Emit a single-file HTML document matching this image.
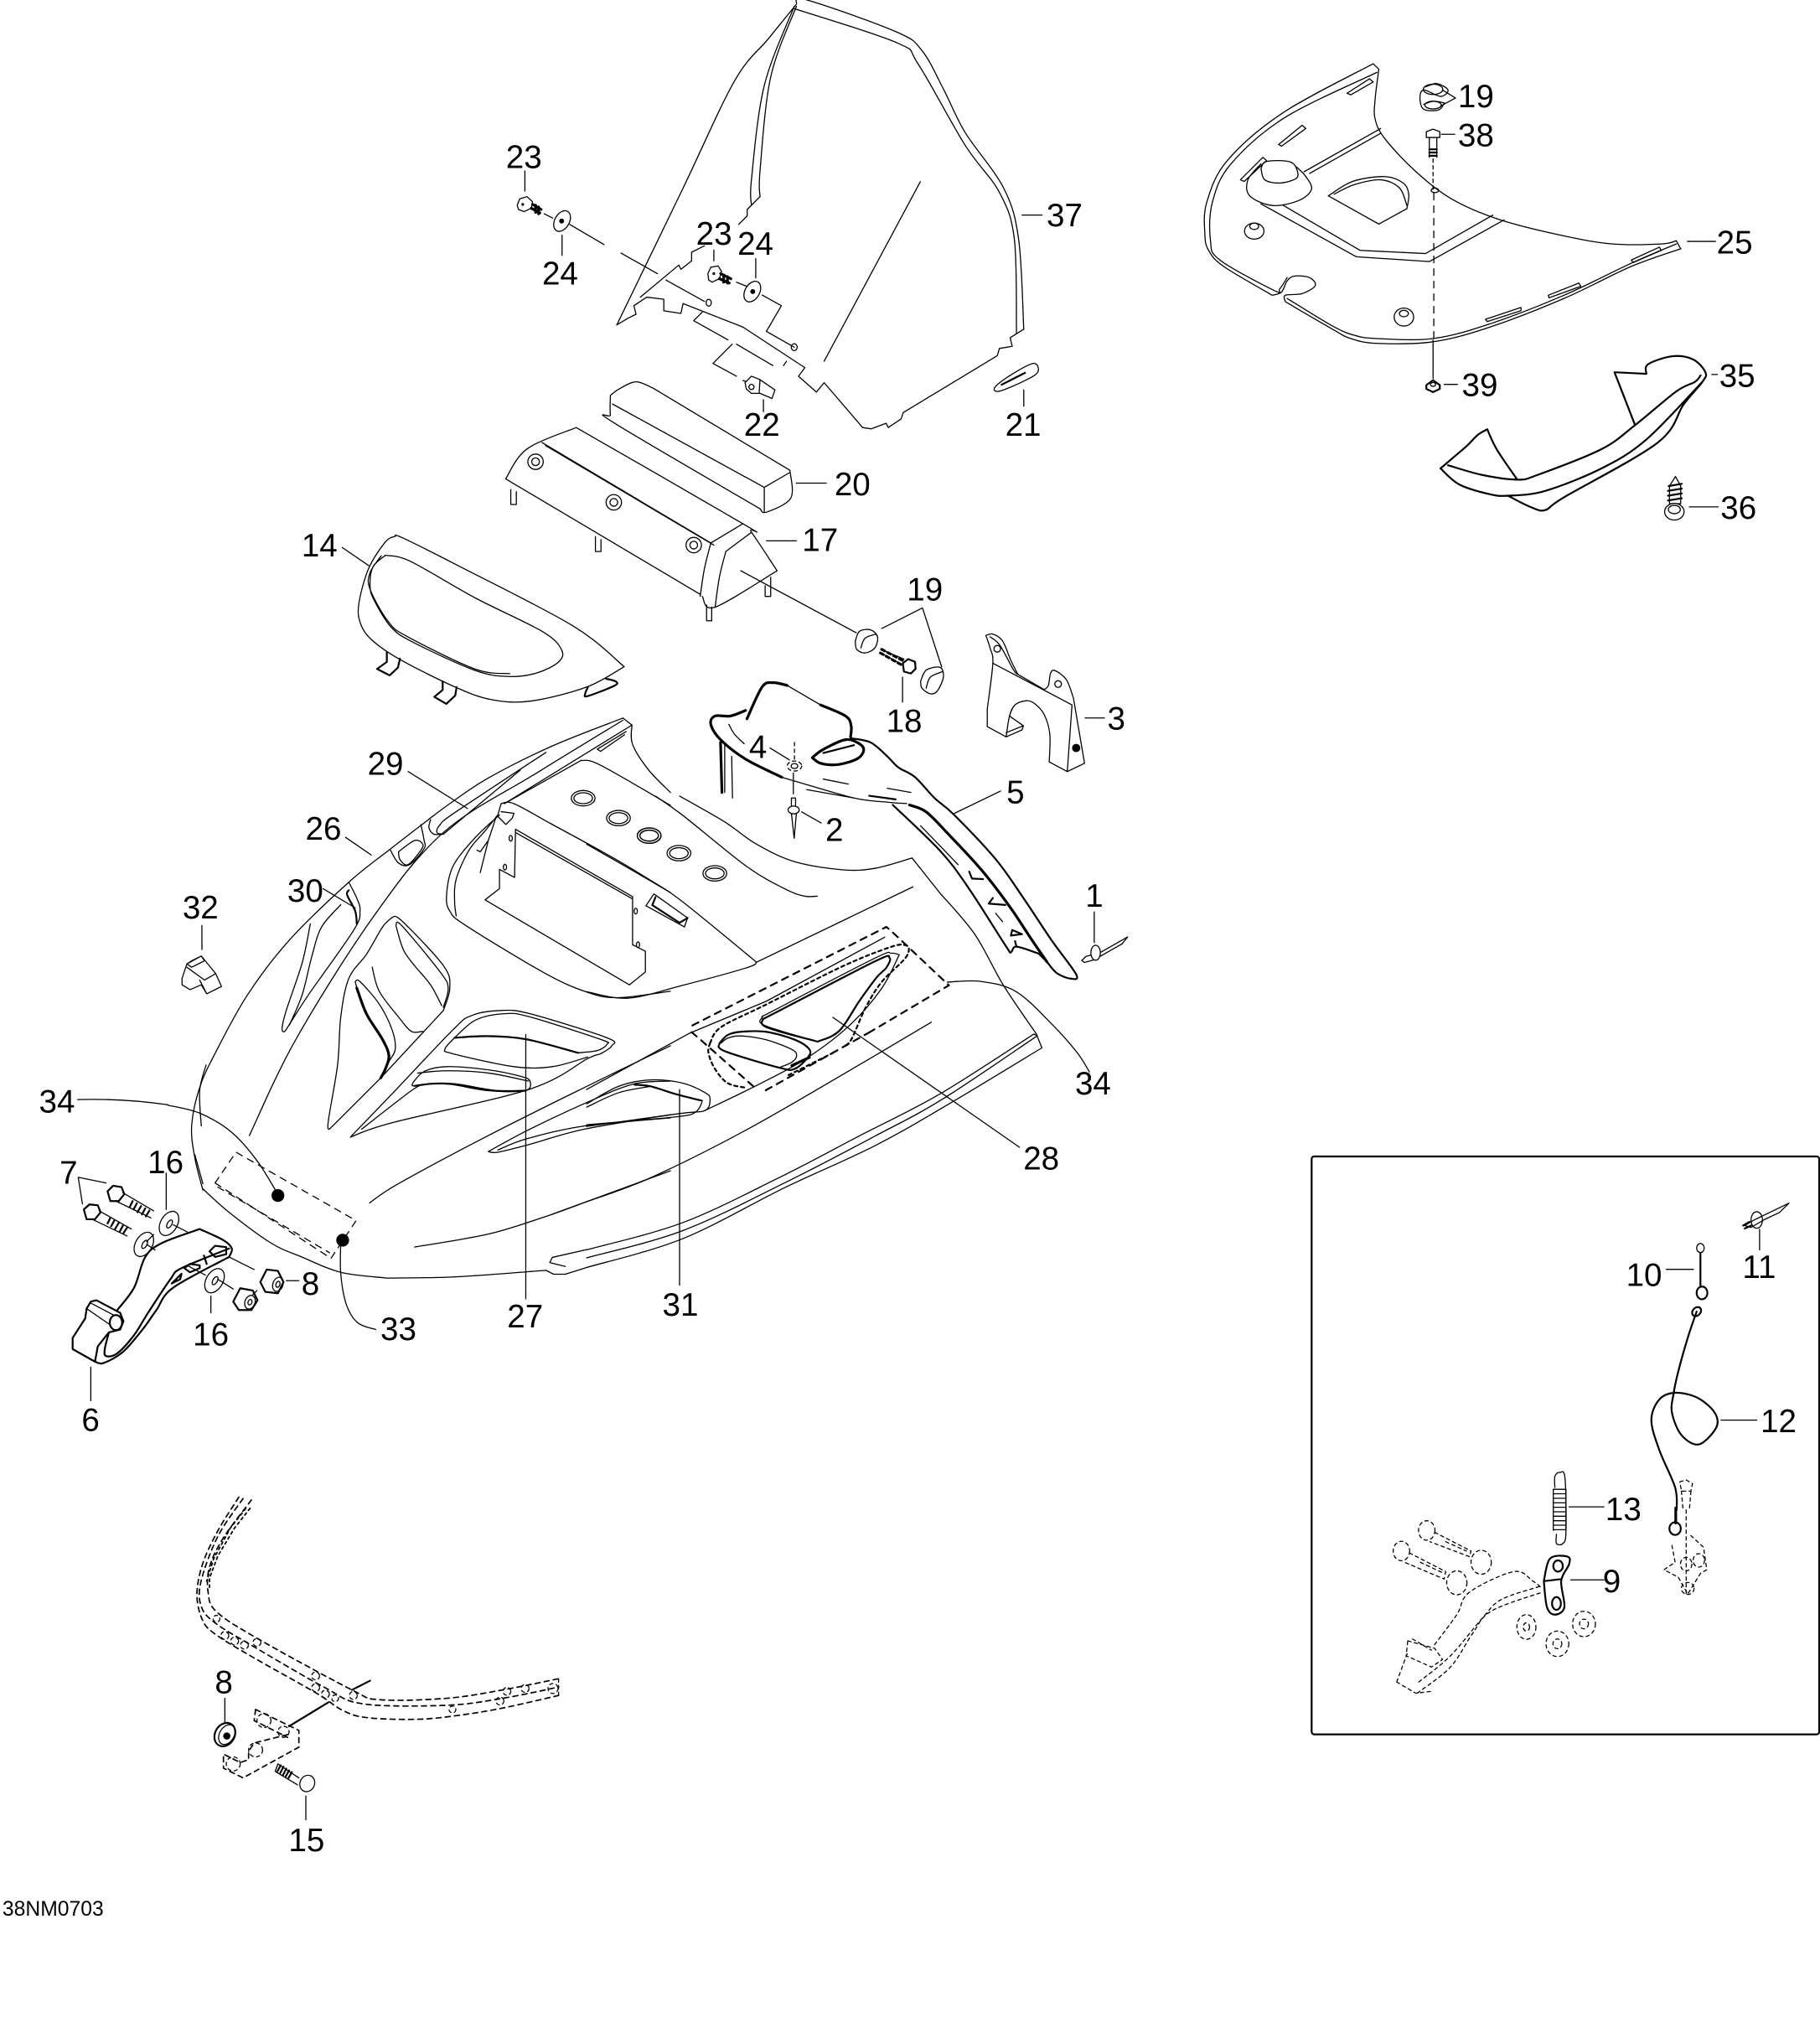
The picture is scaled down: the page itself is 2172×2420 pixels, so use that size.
<!DOCTYPE html>
<html><head><meta charset="utf-8"><style>
html,body{margin:0;padding:0;background:#fff}
svg{display:block}
path,ellipse,circle,rect{vector-effect:non-scaling-stroke}
text{font-family:"Liberation Sans",sans-serif;font-size:25px;fill:#000;stroke:none;text-anchor:middle}
.d{stroke-dasharray:8 7}
.s{stroke-dasharray:4 4}
.x{stroke-dasharray:3 4;stroke-width:1.8}
.b{stroke-dasharray:6 5;stroke-width:1.7}
.t{stroke-width:3.2}
.k{stroke-width:2.2}
.w{fill:#fff}
.f{fill:#000}
</style></head><body>
<svg width="2172" height="2420" viewBox="0 0 1407 1567.7" fill="none" stroke="#000" stroke-width="1.3" stroke-linejoin="round" stroke-linecap="round">

<!-- windshield group and upper parts -->
<g transform="translate(362.8 0) scale(.3305)">
<path class="c" d="M345 760 500 440 620 190 700 90 765 10 M765 10 790 0 1000 75 1060 120 1110 210 1160 310 1250 440 1285 560 1297 770"/>
<path d="M1297 770 1265 790 1270 810 1240 815 1235 832 1015 965 1010 980 980 1000 975 990 940 1003 920 1000 830 895 812 917 770 880 785 860 640 765 500 710 495 733 455 727 455 700 415 695 385 715 390 735 370 745 345 760M400 695 490 620 495 630 520 610 520 590 550 575M630 525 650 505 650 490 660 480 680 460"/>
<path class="c" d="M660 480 660 420 690 200 760 15 M680 460 680 400 705 180 765 15 M760 20 1000 100 1050 150 1160 340 1240 450 1275 560 1280 780"/>
<path d="M1055 425 830 845"/>
<path d="M235 525 315 572M355 592 440 640M460 655 550 705M625 660 650 670M685 690 730 715 695 775 760 812M525 750 545 730M525 750 605 795M625 805 710 855M735 855 742 845M615 805 570 850 625 880M640 890 655 895"/>
<ellipse cx="560" cy="708" rx="6" ry="8"/><ellipse cx="760" cy="812" rx="7" ry="8"/>
<path class="w" d="M112 480 118 465 135 460 148 472 145 487 128 495 115 490Z"/><path class="t" d="M148 478 168 490M145 487 165 498M155 480V497M162 484V500"/><circle cx="125" cy="478" r="2"/>
<path d="M175 500 195 510"/>
<ellipse cx="217" cy="517" rx="17" ry="26" transform="rotate(30 217 517)"/><circle cx="216" cy="517" r="4.5" class="f"/>
<path class="w" d="M558 640 565 625 582 622 590 635 585 652 568 660 560 655Z"/><path class="t" d="M588 640 612 652M585 652 608 662M595 643V660M604 647V662"/><circle cx="572" cy="640" r="2"/>
<ellipse cx="662" cy="682" rx="17" ry="26" transform="rotate(30 662 682)"/><circle cx="663" cy="682" r="4.5" class="f"/>
<path class="w" d="M645 895 660 880 680 888 715 912 708 932 680 920 660 920 648 910Z"/><circle cx="660" cy="905" r="6"/><path d="M680 888 678 918"/>
<path d="M130 400V447M217 550V597M572 585V610M670 605V650M688 935V963M1293 503H1340"/>
<path class="c" d="M1230 905 1270 875 1320 850 1330 870 1300 890 1240 915Z"/><path class="k" d="M1245 900 1300 872"/><path d="M1297 912V950"/>
<!-- 20 -->
<path class="c" d="M330 925 350 910 390 893 430 908M430 908 750 1100M750 1100 752 1165 695 1198 680 1190M680 1190 340 990 330 970 330 925"/>
<path d="M335 945 690 1140 750 1105M690 1140V1198M765 1130H835"/>
<!-- 17 -->
<path class="c" d="M85 1120 135 1050 250 1000 M250 1000 640 1225 660 1245 720 1335 M720 1335 575 1420 545 1395"/>
<path d="M85 1120 540 1390M170 1035 565 1270 640 1225M178 1042 572 1275"/>
<path class="c" d="M565 1270 550 1330 540 1395M600 1290 660 1245M600 1290 585 1350 575 1420"/>
<path d="M97 1145V1180H110V1150M295 1255V1290H308V1262M555 1415V1452H567V1420M692 1370V1395H705V1350M695 1265H765"/>
<circle cx="155" cy="1080" r="18"/><circle cx="155" cy="1080" r="9"/><circle cx="338" cy="1175" r="18"/><circle cx="338" cy="1175" r="9"/><circle cx="525" cy="1275" r="18"/><circle cx="525" cy="1275" r="9"/>
<path d="M635 1335 905 1480"/>
<path d="M965 1470 1060 1422 1105 1560"/>
</g>

<!-- 14 -->
<g transform="translate(259.1 401.6) scale(.2159)">
<path class="c" d="M215 60 240 65 440 165 850 380 1035 527 M1035 527 900 600 700 650 560 645 430 600 230 500 130 430 90 370 85 300 120 175 180 80 215 60"/>
<path class="c" d="M180 128 270 150 500 280 740 400 810 465 800 510 720 550 620 562 500 540 280 440 200 385 140 290 125 240 135 170 180 128M165 130 125 190 125 250 190 365 260 420 500 535 625 552"/>
<path class="k" d="M185 475 185 510 150 535 195 558 225 530 232 498M385 580 385 610 355 635 398 660 430 630 435 600"/>
<path class="k c" d="M905 600 895 625 905 632 1000 595 1005 580 970 570"/>
<path d="M25 100 120 165"/>
</g>

<!-- hood left -->
<g transform="translate(129.56 550.6) scale(.2479)">
<path class="c" d="M1420 18 1200 105 1000 205 880 285 800 345 690 430 565 530 380 710 250 880 150 1060 100 1170 75 1290 85 1390 110 1490"/>
<path class="c" d="M105 1290 100 1180 120 1100M85 1380 110 1470"/>
<path d="M1420 18 1448 40 1050 285M1290 150 1050 285"/>
<path class="c" d="M1420 25 1150 190 860 375 640 640 400 1020 255 1320"/>
<path class="c" d="M1180 125 900 310 850 350 840 375 860 380 M1100 180 860 380M820 335 815 360 830 380 860 380M790 350 800 400 800 425 755 475 720 470 695 430M720 435 770 400 795 410 790 430 750 475 725 460 720 435"/>
<path d="M1430 60 1340 115 1350 122 1425 70"/>
<path class="c" d="M1448 40 1450 100 1500 180 1568 250M1290 150 1350 165 1568 290"/>
<path d="M1040 285 1030 320M1040 310 1080 315 1075 330 1055 350 1030 325M1025 325 1000 400 975 500M965 430 975 435 1000 400"/>
<path class="c" d="M1040 285 1080 285 1200 350 1400 460 1568 562"/>
<path class="c" d="M1035 320 960 390 890 480 870 570 880 620 930 665 1170 810 1300 870 1400 890 1568 870M1030 320 990 370 940 430 900 520 895 590 900 635"/>
<path d="M1085 365 1450 575V725L1490 745V810L1440 850 990 585 1035 550V490L1082 515ZM1085 375 1450 582"/>
<ellipse cx="1070" cy="393" rx="5" ry="9"/><ellipse cx="1052" cy="483" rx="5" ry="9"/><ellipse cx="1460" cy="620" rx="5" ry="9"/><ellipse cx="1467" cy="725" rx="5" ry="9"/>
<ellipse cx="1296" cy="268" rx="37" ry="24"/><ellipse cx="1296" cy="268" rx="29" ry="17"/><ellipse cx="1406" cy="330" rx="37" ry="24"/><ellipse cx="1406" cy="330" rx="29" ry="17"/><ellipse cx="1502" cy="385" rx="37" ry="24"/><ellipse cx="1502" cy="385" rx="29" ry="17"/>
<!-- vent 30 -->
<path class="c" d="M565 530 590 580 600 620 580 680 440 880 385 965 365 995 357 985 370 930 420 780 445 660"/>
<path class="c k" d="M565 555 560 570 585 620 590 660"/>
<path class="c" d="M540 600 480 670 450 760 420 880 380 975"/>
<!-- mid vent -->
<path class="c" d="M700 640 670 670 620 755 565 830 540 950 530 1100 500 1285 515 1290"/>
<path d="M515 1290 665 1140 860 930"/>
<path class="c" d="M860 930 880 860 860 790 730 650 700 640M712 665 730 665 850 810 875 860 860 920M712 665 735 740 770 790 820 850 855 915M638 795 660 870 720 950 760 995 795 995"/>
<path class="c" d="M585 840 600 840 660 910 700 990 710 1050 690 1090 665 1140M585 840 590 860"/>
<path class="c t" d="M590 860 620 940 670 1020 690 1070 680 1110 665 1140"/>
<!-- 27 -->
<path class="c" d="M570 1325 700 1190 890 990 950 945 1040 930 1130 940 1370 1015 1385 1040 1350 1065 1310 1080 1130 1175 700 1280 570 1325"/>
<path class="c" d="M895 1015 960 960 1050 940 1130 950 1350 1020 1370 1035 1340 1055 1280 1062"/>
<path class="c k" d="M895 1015 1000 1010 1120 1020 1280 1062"/>
<path class="c" d="M895 1015 865 1050 890 1065 1080 1105 1200 1105 1310 1075"/>
<path class="c" d="M765 1155 800 1120 870 1105 1000 1115 1100 1135 1130 1150 1115 1180 1000 1180 880 1160 800 1160 765 1165 765 1155M780 1125 870 1118 1000 1125 1125 1150"/>
<path class="c k" d="M770 1165 830 1158 900 1160 1020 1180 1115 1180"/>
<path class="c" d="M605 1300 760 1180 800 1160"/>
<!-- 31 left -->
<path class="c" d="M1000 1370 1120 1305 1300 1220 1450 1160 1568 1150M1030 1365 1120 1330 1300 1290 1568 1265M1000 1370 1030 1372 1120 1350 1300 1300 1568 1255"/>
<path class="c" d="M630 1530 720 1470 1000 1320 1300 1170 1568 1040"/>
<path d="M1200 1565 1568 1430"/>
<path class="c" d="M0 1225 100 1250 200 1310 280 1400 345 1505"/>
<path d="M750 185 935 300M555 390 635 445M485 550 585 610M1117 1005V1829"/>
</g>

<!-- hood right -->
<g transform="translate(453.46 615.4) scale(.2479)">
<path class="c" d="M0 1470 300 1380 620 1220 900 1090 1130 960 1420 785M0 1415 300 1330 600 1190 850 1060 1100 930 1395 742M0 1440 300 1355 620 1205 900 1060 1110 945 1405 748"/>
<path d="M1395 742 1405 748 1420 785M1015 193 1100 300"/>
<path class="c" d="M1100 300 1210 430 1300 590 1405 745M1015 193 900 225 800 230 650 205 530 150 430 80 290 0M215 0 300 60 500 220 620 290 680 312 720 312M0 150 200 265 300 330 530 518"/>
<path class="c" d="M0 610 130 630 300 590 500 535 530 518"/>
<path d="M530 518 1018 283M930 440 560 640 320 740 0 915"/>
<path class="c" d="M0 1265 200 1190 500 1040 830 850 1075 705"/>
<ellipse cx="195" cy="123" rx="37" ry="24"/><ellipse cx="195" cy="123" rx="29" ry="17"/><ellipse cx="288" cy="178" rx="37" ry="24"/><ellipse cx="288" cy="178" rx="29" ry="17"/><ellipse cx="400" cy="241" rx="37" ry="24"/><ellipse cx="400" cy="241" rx="29" ry="17"/>
<path d="M210 305 315 380 305 408 185 342Z"/><path class="k" d="M205 340 290 395 315 380M215 315 205 340"/>
<!-- 31 -->
<path class="c" d="M0 960 100 905 200 885 300 895 370 925 385 945 370 980 290 990 0 1030M0 970 100 925 200 905"/>
<path class="c k" d="M150 900 200 905 280 930 360 950"/>
<path class="c" d="M0 1025 280 1000 340 985 360 955"/>
<!-- 28 -->
<path class="c" d="M370 980 545 895 690 815 820 715 920 600 975 495"/>
<path class="c k" d="M550 695 590 675 900 515 945 505 935 535 905 565 850 640 790 730 730 762 700 760 560 720 550 695"/>
<path class="c" d="M975 495 950 490 900 505 585 668 548 690 555 715 700 760"/>
<path class="c k" d="M415 770 440 745 480 735 560 735 650 760 695 790 690 815 650 850 605 848 430 795 415 770"/>
<path class="c" d="M420 770 440 755 480 748 560 760 640 790 655 810 640 830 605 845"/>
<path class="t" d="M640 840 695 815"/>
<path class="c s k" d="M385 770 420 720 560 650 800 530 950 470 995 465 1005 480 990 510 920 580 870 660 825 760 800 780M385 770 380 800 400 850 440 895 500 910M630 870 780 795"/>
<path class="d k" d="M330 715 935 408 960 430 1130 590 885 735M885 735 545 925M520 905 350 755 320 730"/>
<path class="c" d="M1125 580 1230 578 1340 610 1450 710 1530 800 1568 860"/>
<path d="M768 690 1350 1095M290 915V1525"/>
</g>

<!-- 5, 3, 4, 2, 18, 19, 1 -->
<g transform="translate(544.15 479.4) scale(.2148)">
<path class="c t" d="M150 325 95 345 40 345 25 375 60 430 150 500 280 565M155 355 210 240 250 225 300 235M420 305 510 345 530 380 528 420"/>
<path d="M300 235 420 305"/>
<path class="c" d="M280 565 330 580 540 640 660 655 730 660"/>
<path class="c k" d="M528 425 600 440 660 490 700 530 760 565 830 640 900 700 1050 860 1150 1000 1250 1150 1340 1275 1320 1290 1270 1270 1235 1230 M1205 1200 1125 1175 1105 1195 1085 1170 950 960 850 830 680 665"/>
<path class="c t" d="M740 665 800 690 880 770 1000 900 1100 1030 1180 1150 1235 1230"/>
<path class="k" d="M1235 1230 1205 1200"/>
<path class="c t" d="M390 495 430 465 510 430 560 445 575 470 550 500 480 520 420 515 390 495"/>
<path class="k" d="M430 478 540 450"/>
<path class="c" d="M90 375 110 410 145 445M780 740 915 880M370 610 540 640"/>
<path d="M430 572 520 590M660 605 745 620M1050 1055 1075 1085"/>
<path class="k" d="M595 632 690 645M955 905 965 930 1005 932M1040 1000 1025 1020 1085 1025M1105 1135 1145 1130 1110 1115ZM1120 1155 1125 1175"/>
<path class="t" d="M60 440 65 620"/><path d="M75 450V620M100 490 103 640"/>
<!-- 4 -->
<ellipse cx="326" cy="525" rx="26" ry="18" class="s"/><ellipse cx="326" cy="525" rx="12" ry="9"/>
<path class="s" d="M326 440V510"/><path d="M322 550V625M238 460 308 503"/>
<!-- 2 -->
<path d="M315 640 330 640 330 670 315 670ZM315 695 325 785 333 695M352 690 422 730"/><ellipse cx="323" cy="683" rx="20" ry="14" class="w"/>
<!-- 18 19 -->
<path class="t s" d="M640 105 715 145M635 118 710 160"/><path d="M637 105 720 140M637 118 710 158"/>
<path class="k w" d="M716 155 735 140 760 150 762 175 745 192 720 185Z"/>
<path d="M715 205V295"/>
<path class="c w" d="M545 75 560 40 600 35 625 60 615 100 580 118 550 105 545 75"/><path class="c" d="M565 100 580 65 620 50"/>
<path class="c w" d="M780 220 800 180 850 170 862 205 840 255 815 265 785 245 780 220"/><path class="c" d="M800 245 815 205 860 185"/>
<!-- 3 -->
<path class="c" d="M1015 55 1040 50 1075 75 1105 145 1130 195M1225 250 1240 235 1248 190 1265 182 1305 215 1330 280 M1330 280 1370 515M1243 510 1245 410 1225 340 1190 300 1160 290 1120 305 1100 345 1088 420M1020 320 1040 155 1030 100 1015 55"/>
<path d="M1130 195 1225 250M1370 515 1308 545 1243 510M1088 420 1020 383V320M1040 155 1325 305 1308 545M1100 345 1150 380 1145 395 1088 420M1088 405 1150 380M1372 352H1442"/>
<path class="c" d="M1030 60 1065 90 1115 180 1130 195"/>
<circle cx="1056" cy="103" r="12"/><circle cx="1275" cy="230" r="12"/><circle cx="1340" cy="460" r="13" class="f"/>
<!-- 1 -->
<path d="M1360 1225 1375 1210 1395 1205 1420 1200 1525 1140 1505 1165 1435 1205 1405 1222 1370 1232Z"/><ellipse cx="1410" cy="1197" rx="17" ry="27" class="w"/><path d="M1405 1050V1160"/>
<path d="M902 695 1068 615"/>
</g>

<!-- 32 clip -->
<g transform="translate(129.56 550.6) scale(.2479)">
<path d="M45 830 60 785 105 760 150 815 168 855 122 878 105 850 70 865 45 850ZM60 785 75 775 105 760 115 775 75 795ZM60 795 115 835 150 815M100 835 122 878M107 740V665"/>
</g>

<!-- hood lower left and bracket 6 -->
<g transform="translate(38.87 874.5) scale(.2159)">
<path class="c" d="M545 205 640 290 790 400 900 450 1040 505 1200 525"/>
<path class="d" d="M590 185 665 75 1095 320 1005 455 590 185"/>
<path class="d" d="M600 200 1000 435"/>
<path class="c" d="M1040 395 1040 510 1060 620 1100 685 1165 710"/>
<circle cx="815" cy="230" r="21" class="f"/><circle cx="1047" cy="390" r="21" class="f"/>
<path class="k" d="M80 740 125 670 130 635 145 610 165 605 250 650 262 680 250 710 210 720 170 770 160 825 80 780Z"/>
<path class="k c" d="M240 640 300 560 340 450 400 400 535 350 M535 350 620 390 650 420 640 450 M640 450 440 560 380 640 330 710 260 790 190 830 160 825M210 720 195 780 200 805 240 795 300 730 350 650 430 530 470 490 640 420"/>
<path d="M130 635 210 690M145 615 240 665"/>
<ellipse cx="235" cy="685" rx="22" ry="27" class="w k"/>
<path class="k" d="M570 430 590 410 630 415 630 440 590 450ZM480 490 500 475 535 480 535 490 500 505ZM435 545 470 510 465 530ZM550 445 560 475"/>
<path d="M100 165 200 185M100 165 115 260"/>
<path class="k w" d="M205 215 225 195 255 200 265 225 245 250 215 250Z"/><path d="M260 220 370 285M235 250 360 310"/><path class="k" d="M295 250 285 270M310 258 298 280M325 268 312 290M340 276 328 298M355 284 342 305"/>
<path class="k w" d="M120 280 140 262 170 265 180 290 160 315 130 315Z"/><path d="M175 285 290 350M150 315 275 375"/><path class="k" d="M215 310 205 330M230 318 218 340M245 328 232 350M260 338 248 360M275 345 262 365"/>
<ellipse cx="425" cy="330" rx="30" ry="47" transform="rotate(30 425 330)"/><ellipse cx="427" cy="332" rx="8" ry="16" transform="rotate(30 427 332)"/>
<ellipse cx="335" cy="405" rx="30" ry="47" transform="rotate(30 335 405)"/><ellipse cx="338" cy="405" rx="8" ry="16" transform="rotate(30 338 405)"/>
<ellipse cx="588" cy="535" rx="30" ry="47" transform="rotate(30 588 535)"/><ellipse cx="590" cy="535" rx="8" ry="16" transform="rotate(30 590 535)"/>
<path d="M415 150V280M440 335 490 360M370 370 345 395M375 425 345 405"/>
<path class="k w" d="M752 540 775 495 815 500 835 540 815 580 770 575Z"/><ellipse cx="815" cy="548" rx="18" ry="26" transform="rotate(20 815 548)"/><ellipse cx="815" cy="548" rx="7" ry="11" transform="rotate(20 815 548)"/>
<path class="k w" d="M655 610 680 562 725 570 742 605 720 640 675 640Z"/><ellipse cx="715" cy="612" rx="18" ry="25" transform="rotate(20 715 612)"/><ellipse cx="715" cy="612" rx="7" ry="10" transform="rotate(20 715 612)"/>
<path d="M845 535H890M640 450 730 495M490 480 555 515M600 530 655 565M740 570 725 585M575 590V650M145 845V965"/>
</g>

<!-- lower hood joining parts -->
<path class="c" d="M298 988 353 987 422 982 M437 985 453 980"/>
<path d="M422 982 428 985 437 985M453.5 966 427 972 425 976 437 979"/>
<path class="c" d="M320.5 964 377.5 954 420 941 453.5 929"/>

<!-- 25 35 36 etc -->
<g transform="translate(919.9 32.4) scale(.2892 .2479)">
<path class="c" d="M490 68 250 220 100 370 45 500 40 600 50 650 90 700 220 790M220 790 245 780 260 745 280 730 320 735 335 760 300 785 255 790 255 810M255 810 380 895 430 925 500 940 650 935 800 890 1000 800 1180 700 1312 645"/>
<path class="c" d="M500 95 255 235 110 380 60 500 55 620 80 680 225 775 240 770 260 735M260 800 380 885 440 915 500 925 650 925 800 880 1000 790 1180 690 1300 630"/>
<path class="c" d="M505 85 495 180 495 240 520 300 600 400 700 490 830 555 1000 605 1130 630 1260 630 1300 620"/>
<path d="M490 68 505 85M1300 620 1312 645"/>
<path class="c" d="M190 380 155 430 160 480 220 510 290 495 325 460 310 420 285 390"/>
<path class="c" d="M190 395 200 375 235 370 270 375 285 395 285 425 240 440 200 430 190 395"/>
<path d="M305 405 510 270M320 410 510 285M190 505 445 670 640 685 840 555M250 510 455 650 630 660 810 540"/>
<path class="c" d="M370 480 435 435 520 420 570 440 585 475 580 520M385 475 440 445 510 430 560 455 580 510"/>
<path d="M580 520 505 568 370 480"/>
<path d="M420 160 480 115 490 125 430 165ZM237 320 300 260 310 270 245 325ZM135 430 195 360 205 370 145 435ZM790 865 885 828 885 838 795 872ZM958 790 1040 752 1045 762 960 798ZM1180 680 1255 640 1260 650 1185 688Z"/>
<ellipse cx="172" cy="590" rx="26" ry="25"/><ellipse cx="172" cy="575" rx="12" ry="10"/><ellipse cx="572" cy="858" rx="26" ry="28"/><ellipse cx="572" cy="847" rx="12" ry="10"/>
<path class="c" d="M630 140 660 130 690 150 670 170 625 150 615 175 625 210 665 212 680 190M625 195 650 185 680 190"/>
<ellipse cx="650" cy="148" rx="26" ry="16"/><ellipse cx="650" cy="197" rx="22" ry="12"/>
<path d="M675 150 710 175 670 200"/>
<path class="w" d="M632 280 650 272 668 280 668 298 632 298Z"/><path d="M640 300V360M660 300V360M672 288H708"/><path class="k" d="M640 335H660M640 345H660M640 355H660"/>
<path class="s" d="M650 365V460"/><ellipse cx="655" cy="463" rx="10" ry="7"/>
<path class="d" d="M652 472V930"/><path d="M650 930V1050M680 1068H715M1330 622H1405M1395 1037H1410M1335 1450H1412"/>
<path class="k w" d="M632 1070 650 1055 668 1070 668 1082 650 1092 632 1082Z"/><ellipse cx="650" cy="1068" rx="7" ry="6"/>
<path class="k c" d="M670 1330 700 1300 740 1260 770 1225 795 1208M795 1208 820 1270 875 1365M690 1320 780 1350 875 1365 930 1350 1100 1270 1190 1195 1300 1090 1350 1060 1365 1040"/>
<path class="k" d="M1135 1030 1190 1195M1135 1030 1220 1035"/>
<path class="k c" d="M1220 1035 1225 1005 1290 980 1345 990 1378 1030 1370 1060 1320 1130 1250 1250 1000 1420 950 1460 910 1450 850 1415M670 1330 720 1380 800 1410 850 1415 950 1400 1100 1330 1220 1240 1370 1060"/>
<path class="w" d="M1298 1355 1312 1385 1312 1440 1282 1440 1282 1385Z"/>
<path class="k" d="M1280 1385 1315 1378M1278 1400 1315 1393M1278 1415 1315 1408M1278 1430 1315 1423"/>
<ellipse cx="1295" cy="1465" rx="26" ry="26" class="w"/><ellipse cx="1295" cy="1458" rx="16" ry="13"/>
</g>

<!-- lower bumper -->
<g transform="translate(129.56 1140.1) scale(.2159)">
<path class="c b" d="M255 80 180 200 125 320 105 430 125 520 170 570 300 650 530 780 630 845 720 870 900 875 1050 860 1200 835 1400 790"/>
<path class="c b" d="M270 85 180 220 120 380 120 470 170 530 300 610 560 760 700 820 1000 825 1200 800 1400 760"/>
<path class="c b" d="M300 90 200 225 150 330 145 420 175 490 320 585 660 770 760 805 1000 800 1200 770 1400 730"/>
<path class="x" d="M295 120 240 190 180 290 150 370 150 410"/>
<path class="x" d="M280 120 225 190 165 300 140 380"/>
<path class="s" d="M1400 730V790"/>
<circle cx="530" cy="720" r="14" class="s"/><circle cx="530" cy="762" r="14" class="s"/><circle cx="565" cy="785" r="14" class="s"/><circle cx="600" cy="800" r="12" class="s"/><circle cx="665" cy="790" r="14" class="s"/><circle cx="1020" cy="840" r="12" class="s"/><circle cx="1190" cy="810" r="14" class="s"/><circle cx="1215" cy="775" r="14" class="s"/><circle cx="1280" cy="765" r="14" class="s"/><circle cx="1380" cy="765" r="18" class="s"/><circle cx="205" cy="575" r="14" class="s"/><circle cx="240" cy="595" r="14" class="s"/><circle cx="275" cy="610" r="14" class="s"/><circle cx="320" cy="600" r="14" class="s"/><circle cx="175" cy="515" r="12" class="s"/>
<path class="k" d="M725 737 660 770M575 815 435 900"/>
<path class="b" d="M315 840 470 915V975L270 1085 200 1050V1000L260 1030 290 1020V990L310 960 430 930M315 840 310 880 430 940"/>
<circle cx="345" cy="880" r="25" class="s"/><circle cx="415" cy="920" r="20" class="s"/><circle cx="315" cy="985" r="25" class="s"/><circle cx="235" cy="1035" r="25" class="s"/>
<ellipse cx="205" cy="930" rx="35" ry="44" transform="rotate(30 205 930)" class="k"/><ellipse cx="212" cy="930" rx="26" ry="38" transform="rotate(30 212 930)"/><circle cx="212" cy="935" r="11" class="f"/>
<path d="M205 800V885"/>
<ellipse cx="500" cy="1105" rx="26" ry="30" transform="rotate(25 500 1105)" class="w"/><path d="M470 1085 395 1035M465 1110 385 1062 395 1035"/><path class="k" d="M405 1040 393 1062M415 1045 403 1068M425 1052 413 1075M435 1058 423 1080M445 1064 433 1085"/><path d="M495 1150V1235"/>
</g>

<!-- inset -->
<rect x="1014" y="894" width="392.4" height="446.7" rx="2" class="k"/>
<g transform="translate(1023.5 906.9) scale(.2446 .2892)">
<path d="M1330 140 1360 125 1470 80 1440 105 1390 125 1350 145Z"/><ellipse cx="1368" cy="125" rx="18" ry="22"/><path class="k" d="M1325 140 1345 130M1330 148 1350 140"/>
<path d="M1377 150V205M1082 257H1168"/><ellipse cx="1190" cy="200" rx="12" ry="12"/><path class="k" d="M1190 215V300"/><ellipse cx="1195" cy="320" rx="17" ry="17" class="k"/>
<path class="c k" d="M1178 370 1150 440 1120 530 1105 590 1100 640 1130 700 1185 725 1240 680 1235 640 1180 600 1110 587 1060 605 1035 660 1060 740 1110 840 1115 900"/>
<ellipse cx="1178" cy="370" rx="15" ry="11" transform="rotate(-30 1178 370)" class="k"/><ellipse cx="1110" cy="950" rx="18" ry="17" class="k"/><path class="t" d="M1112 895V935"/>
<path d="M1255 660H1368M775 892H885M780 1087H885"/>
<path class="c" d="M730 840 730 810 745 800 762 815 765 960 755 990 735 990 735 965"/>
<path d="M725 845H765M725 857H765M725 869H765M725 881H765M725 893H765M725 905H765M725 917H765M725 929H765M725 941H765M725 953H765M725 845V955M765 845V955"/>
<path class="k c" d="M695 1090 715 1030 770 1025 775 1045 750 1090 760 1160 730 1180 705 1160 695 1090"/>
<path class="k" d="M700 1090 750 1085"/><ellipse cx="740" cy="1050" rx="15" ry="15" class="k"/><ellipse cx="735" cy="1150" rx="14" ry="17" class="k"/>
<path class="c s" d="M350 1260 420 1180 460 1120 600 1065 660 1090 690 1110M295 1390 400 1320 470 1230 530 1170 690 1120M300 1360 400 1290 500 1190 560 1140 680 1105"/>
<path class="s" d="M265 1250 350 1270 375 1300 340 1320 260 1290ZM230 1360 265 1280M230 1360 290 1390 340 1385M280 1245 340 1275"/>
<path class="s" d="M350 960 465 1010 460 1025 335 985M385 985 450 1010M270 1015 385 1065 380 1085 255 1040M305 1040 375 1068"/>
<ellipse cx="325" cy="955" rx="26" ry="26" class="s"/><ellipse cx="245" cy="1010" rx="26" ry="26" class="s"/>
<ellipse cx="497" cy="1040" rx="32" ry="32" class="s"/><ellipse cx="420" cy="1095" rx="32" ry="32" class="s"/><ellipse cx="640" cy="1213" rx="30" ry="33" class="s"/><ellipse cx="738" cy="1258" rx="36" ry="34" class="s"/><ellipse cx="822" cy="1205" rx="36" ry="34" class="s"/>
<ellipse cx="640" cy="1213" rx="10" ry="11" class="s"/><ellipse cx="738" cy="1258" rx="14" ry="13" class="s"/><ellipse cx="822" cy="1205" rx="14" ry="13" class="s"/>
<path class="s" d="M1125 825 1145 820 1165 830 1160 850 1130 850ZM1130 850 1135 900M1160 850 1155 900M1145 900V1130"/>
<path class="s" d="M1100 995 1110 1040 1075 1060 1120 1080 1150 1125 1190 1070 1210 1060 1200 1000 1155 965"/>
<ellipse cx="1145" cy="1045" rx="18" ry="18" class="s"/><ellipse cx="1185" cy="1035" rx="18" ry="18" class="s"/><ellipse cx="1150" cy="1110" rx="20" ry="16" class="s"/>
</g>

<!-- labels -->
<text x="405" y="130">23</text><text x="433" y="220">24</text><text x="552" y="189">23</text><text x="584" y="197">24</text>
<text x="823" y="175">37</text><text x="1141" y="83">19</text><text x="1141" y="113">38</text><text x="1341" y="196">25</text>
<text x="1144" y="306">39</text><text x="1343" y="299">35</text><text x="1344" y="401">36</text><text x="791" y="337">21</text>
<text x="589" y="337">22</text><text x="659" y="383">20</text><text x="634" y="426">17</text><text x="247" y="430">14</text>
<text x="715" y="464">19</text><text x="699" y="566">18</text><text x="863" y="564">3</text><text x="586" y="586">4</text>
<text x="645" y="650">2</text><text x="785" y="621">5</text><text x="298" y="599">29</text><text x="250" y="649">26</text>
<text x="236" y="697">30</text><text x="155" y="710">32</text><text x="846" y="701">1</text><text x="845" y="846">34</text>
<text x="805" y="904">28</text><text x="44" y="860">34</text><text x="53" y="915">7</text><text x="128" y="907">16</text>
<text x="240" y="1001">8</text><text x="163" y="1040">16</text><text x="308" y="1036">33</text><text x="406" y="1026">27</text>
<text x="526" y="1017">31</text><text x="70" y="1106">6</text><text x="173" y="1309">8</text><text x="237" y="1431">15</text>
<text x="1360" y="988">11</text><text x="1271" y="994">10</text><text x="1375" y="1107">12</text><text x="1255" y="1175">13</text><text x="1246" y="1231">9</text>
<text x="41" y="1481" style="font-size:16px">38NM0703</text>
<path d="M60 850Q95 849 129.6 854"/>
</svg>
<script>
document.querySelectorAll('path.c').forEach(function(p){
  var out='';
  p.getAttribute('d').split(/(?=M)/).forEach(function(sub){
    var closed=/Z/i.test(sub),n=sub.match(/-?[\d.]+/g).map(Number),pts=[],i;
    for(i=0;i+1<n.length;i+=2)pts.push([n[i],n[i+1]]);
    var N=pts.length;
    out+='M'+pts[0][0]+' '+pts[0][1];
    var cnt=closed?N:N-1;
    for(i=0;i<cnt;i++){
      var a=closed?pts[(i-1+N)%N]:pts[Math.max(i-1,0)],b=pts[i],c=pts[(i+1)%N],d=closed?pts[(i+2)%N]:pts[Math.min(i+2,N-1)];
      out+='C'+(b[0]+(c[0]-a[0])/6)+' '+(b[1]+(c[1]-a[1])/6)+' '+(c[0]-(d[0]-b[0])/6)+' '+(c[1]-(d[1]-b[1])/6)+' '+c[0]+' '+c[1];
    }
    if(closed)out+='Z';
  });
  p.setAttribute('d',out);
});
</script>
</body></html>
